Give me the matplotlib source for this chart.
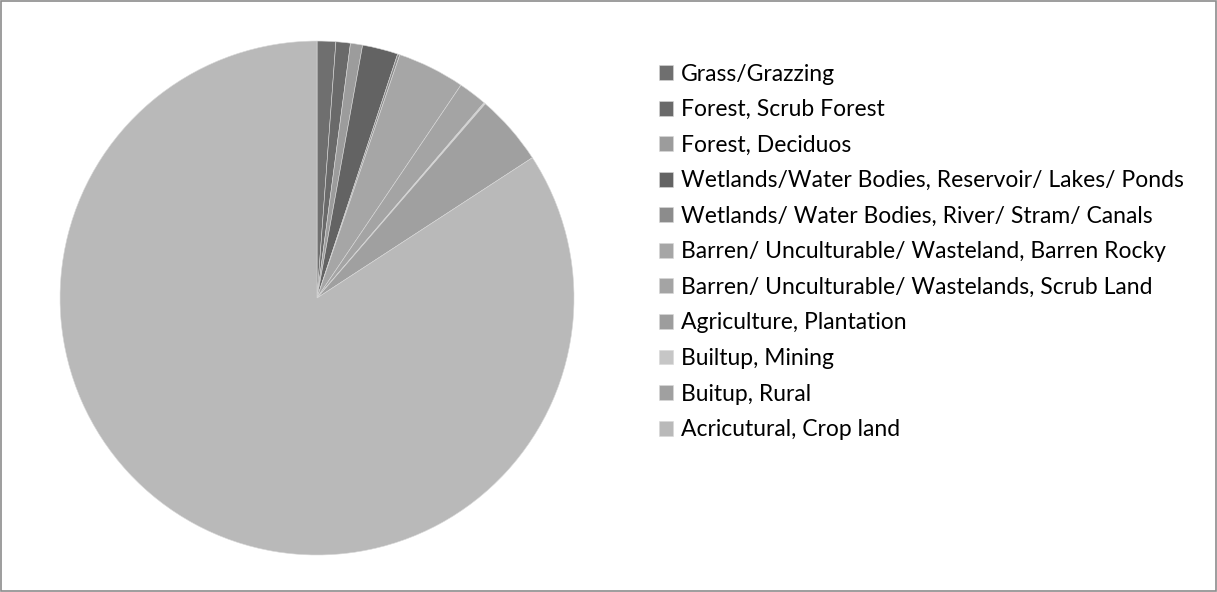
import matplotlib
matplotlib.use("Agg")
import matplotlib.pyplot as plt
from matplotlib.patches import Rectangle

# land use classes, share of total area (%)
categories = [
    "Grass/Grazzing",
    "Forest, Scrub Forest",
    "Forest, Deciduos",
    "Wetlands/Water Bodies, Reservoir/ Lakes/ Ponds",
    "Wetlands/ Water Bodies, River/ Stram/ Canals",
    "Barren/ Unculturable/ Wasteland, Barren Rocky",
    "Barren/ Unculturable/ Wastelands, Scrub Land",
    "Agriculture, Plantation",
    "Builtup, Mining",
    "Buitup, Rural",
    "Acricutural, Crop land",
]
shares = [1.17, 0.91, 0.76, 2.24, 0.14, 4.24, 1.80, 0.05, 0.05, 4.45, 84.19]
colors = ["#6f6f6f", "#6a6a6a", "#9c9c9c", "#636363", "#8c8c8c", "#a6a6a6",
          "#a4a4a4", "#9d9d9d", "#c6c6c6", "#a0a0a0", "#b9b9b9"]

plt.rcParams['font.family'] = ['Lato', 'DejaVu Sans']

fig = plt.figure(figsize=(12.17, 5.92), dpi=100)
ax = fig.add_axes([0.0493, 0.0625, 0.4224, 0.8682])
wedges, _ = ax.pie(shares, colors=colors, startangle=90, counterclock=False,
                   radius=1.0, wedgeprops=dict(edgecolor="#d8d8d8", linewidth=0.4))
ax.set_xlim(-1, 1)
ax.set_ylim(-1, 1)
ax.set_aspect("equal")
ax.axis("off")

fig.legend(wedges, categories, loc="upper left", bbox_to_anchor=(0.534, 0.908),
           frameon=False, fontsize=16.5, handlelength=0.62, handleheight=0.62,
           handletextpad=0.32, labelspacing=0.635, borderaxespad=0)

# outer chart frame
fig.patches.append(Rectangle((0.001, 0.002), 0.998, 0.996, transform=fig.transFigure,
                             fill=False, edgecolor="#8c8c8c", linewidth=1.2))

plt.savefig("out.png", dpi=100)
